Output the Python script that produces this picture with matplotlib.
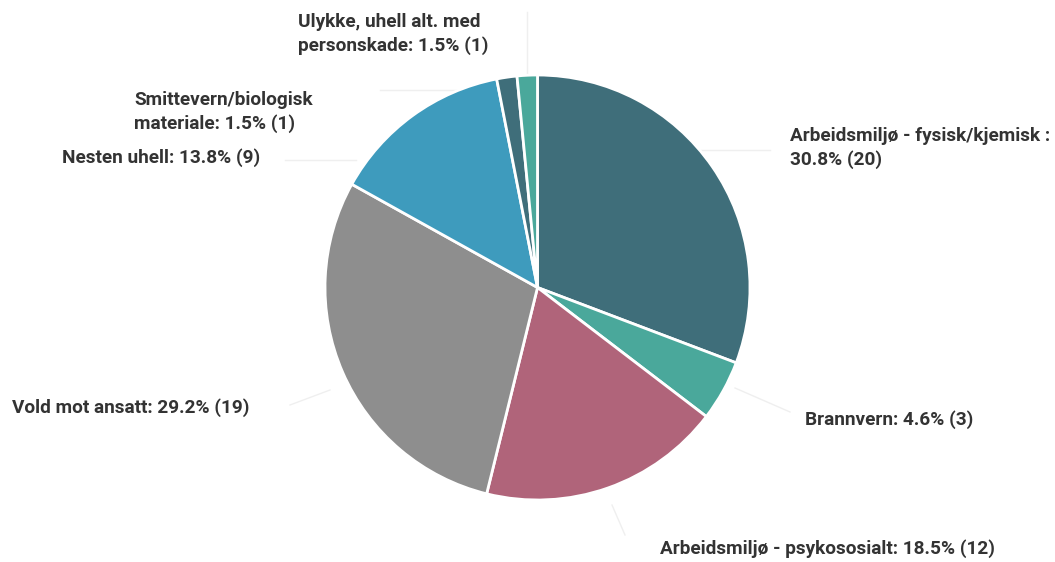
import matplotlib
matplotlib.use("Agg")
import matplotlib.pyplot as plt

labels = ["Arbeidsmiljø - fysisk/kjemisk :\n30.8% (20)",
          "Brannvern: 4.6% (3)",
          "Arbeidsmiljø - psykososialt: 18.5% (12)",
          "Vold mot ansatt: 29.2% (19)",
          "Nesten uhell: 13.8% (9)",
          "Smittevern/biologisk\nmateriale: 1.5% (1)",
          "Ulykke, uhell alt. med\npersonskade: 1.5% (1)"]
counts = [20, 3, 12, 19, 9, 1, 1]
colors = ["#3f6e7a", "#4aa89b", "#b0647a", "#8e8e8e", "#3e9bbd", "#3f6e7a", "#4aa89b"]

W, H = 1055, 562
fig = plt.figure(figsize=(W / 100, H / 100), dpi=100)
ax = fig.add_axes([0, 0, 1, 1])
ax.set_xlim(0, W)
ax.set_ylim(0, H)
ax.set_aspect("equal")
ax.axis("off")

cx, cy, r = 537.5, H - 287.5, 212.5
ax.pie(counts, colors=colors, startangle=90, counterclock=False,
       center=(cx, cy), radius=r,
       wedgeprops=dict(edgecolor="white", linewidth=2))
ax.set_xlim(0, W)
ax.set_ylim(0, H)

# label positions (x, y from top, alignment)
pos = [(790, 148, "left"), (805, 420, "left"), (660, 549, "left"),
       (12, 408, "left"), (62, 158, "left"), (134, 112, "left"), (298, 34, "left")]
lines = [
    [(690, 150), (770, 150)],
    [(735, 388), (790, 412)],
    [(612, 505), (625, 535)],
    [(330, 390), (290, 405)],
    [(356, 160), (285, 160)],
    [(500, 90), (380, 90)],
    [(527, 75), (527, 12)],
]
for (x, y, ha), lab in zip(pos, labels):
    ax.text(x, H - y, lab, ha=ha, va="center", fontsize=13.7,
            family="Roboto", fontweight="bold", color="#333333",
            linespacing=1.35)
for ln in lines:
    ax.plot([p[0] for p in ln], [H - p[1] for p in ln], color="#efefef", lw=1, zorder=0)

fig.savefig("out.png", dpi=100, facecolor="white")
